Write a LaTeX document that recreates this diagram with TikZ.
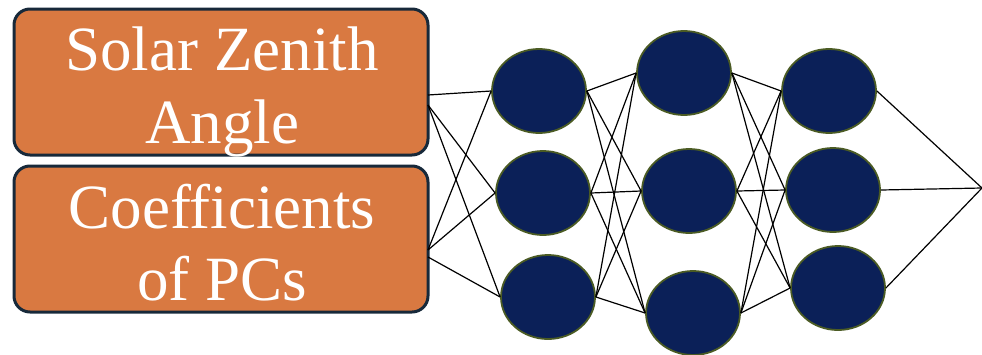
\documentclass[tikz,border=0pt]{standalone}
\usepackage{fontspec}
\setmainfont{Liberation Serif}
\newfontfamily\timesf{Liberation Serif}
\usetikzlibrary{shapes.geometric}
\definecolor{boxfill}{HTML}{D97941}
\definecolor{boxline}{HTML}{17293A}
\definecolor{nodefill}{HTML}{0B2058}
\definecolor{nodeline}{HTML}{4B5B24}
\tikzset{
  inbox/.style={draw=boxline, line width=3pt, fill=boxfill, rounded corners=16pt,
    minimum width=414pt, minimum height=146pt, inner sep=0pt},
  lbl/.style={text=white, font=\timesf\fontsize{63}{73}\selectfont, inner sep=0pt, anchor=base},
  neuron/.style={ellipse, draw=nodeline, line width=1.8pt, fill=nodefill,
    minimum width=94pt, minimum height=84pt, inner sep=0pt},
  conn/.style={draw=black, line width=1.2pt}
}
\begin{document}
\begin{tikzpicture}[x=1pt,y=-1pt]
\useasboundingbox (0,0) rectangle (982,354);
% input boxes
\node[inbox] (in1) at (221,82) {};
\node[inbox] (in2) at (221,239) {};
\node[lbl] (t1a) at (222,70) {Solar Zenith};
\node[lbl] (t1b) at (222,143) {Angle};
\node[lbl] (t2a) at (222,228) {Coefficients};
\node[lbl] (t2b) at (222,300) {of PCs};
\coordinate (a1) at (428,95);
\coordinate (a2) at (428,105);
\coordinate (b1) at (428,250);
\coordinate (b2) at (428,257);
% layer 1
\node[neuron] (h1a) at (539,91) {};
\node[neuron] (h1b) at (543,193) {};
\node[neuron] (h1c) at (548,297) {};
% layer 2
\node[neuron] (h2a) at (684,73) {};
\node[neuron] (h2b) at (689,191) {};
\node[neuron] (h2c) at (693,313) {};
% layer 3
\node[neuron] (h3a) at (829,91) {};
\node[neuron] (h3b) at (833,190) {};
\node[neuron] (h3c) at (838,288) {};
\coordinate (out) at (982,188);
% connections
\draw[conn] (a1) -- (h1a.west);
\draw[conn] (a2) -- (h1b.west);
\draw[conn] (a2) -- (h1c.west);
\draw[conn] (b1) -- (h1a.west);
\draw[conn] (b1) -- (h1b.west);
\draw[conn] (b2) -- (h1c.west);
\foreach \s in {h1a,h1b,h1c}{
  \foreach \t in {h2a,h2b,h2c}{
    \draw[conn] (\s.east) -- (\t.west);
  }
}
\foreach \s in {h2a,h2b,h2c}{
  \foreach \t in {h3a,h3b,h3c}{
    \draw[conn] (\s.east) -- (\t.west);
  }
}
\foreach \s in {h3a,h3b,h3c}{
  \draw[conn] (\s.east) -- (out);
}
\end{tikzpicture}
\end{document}
